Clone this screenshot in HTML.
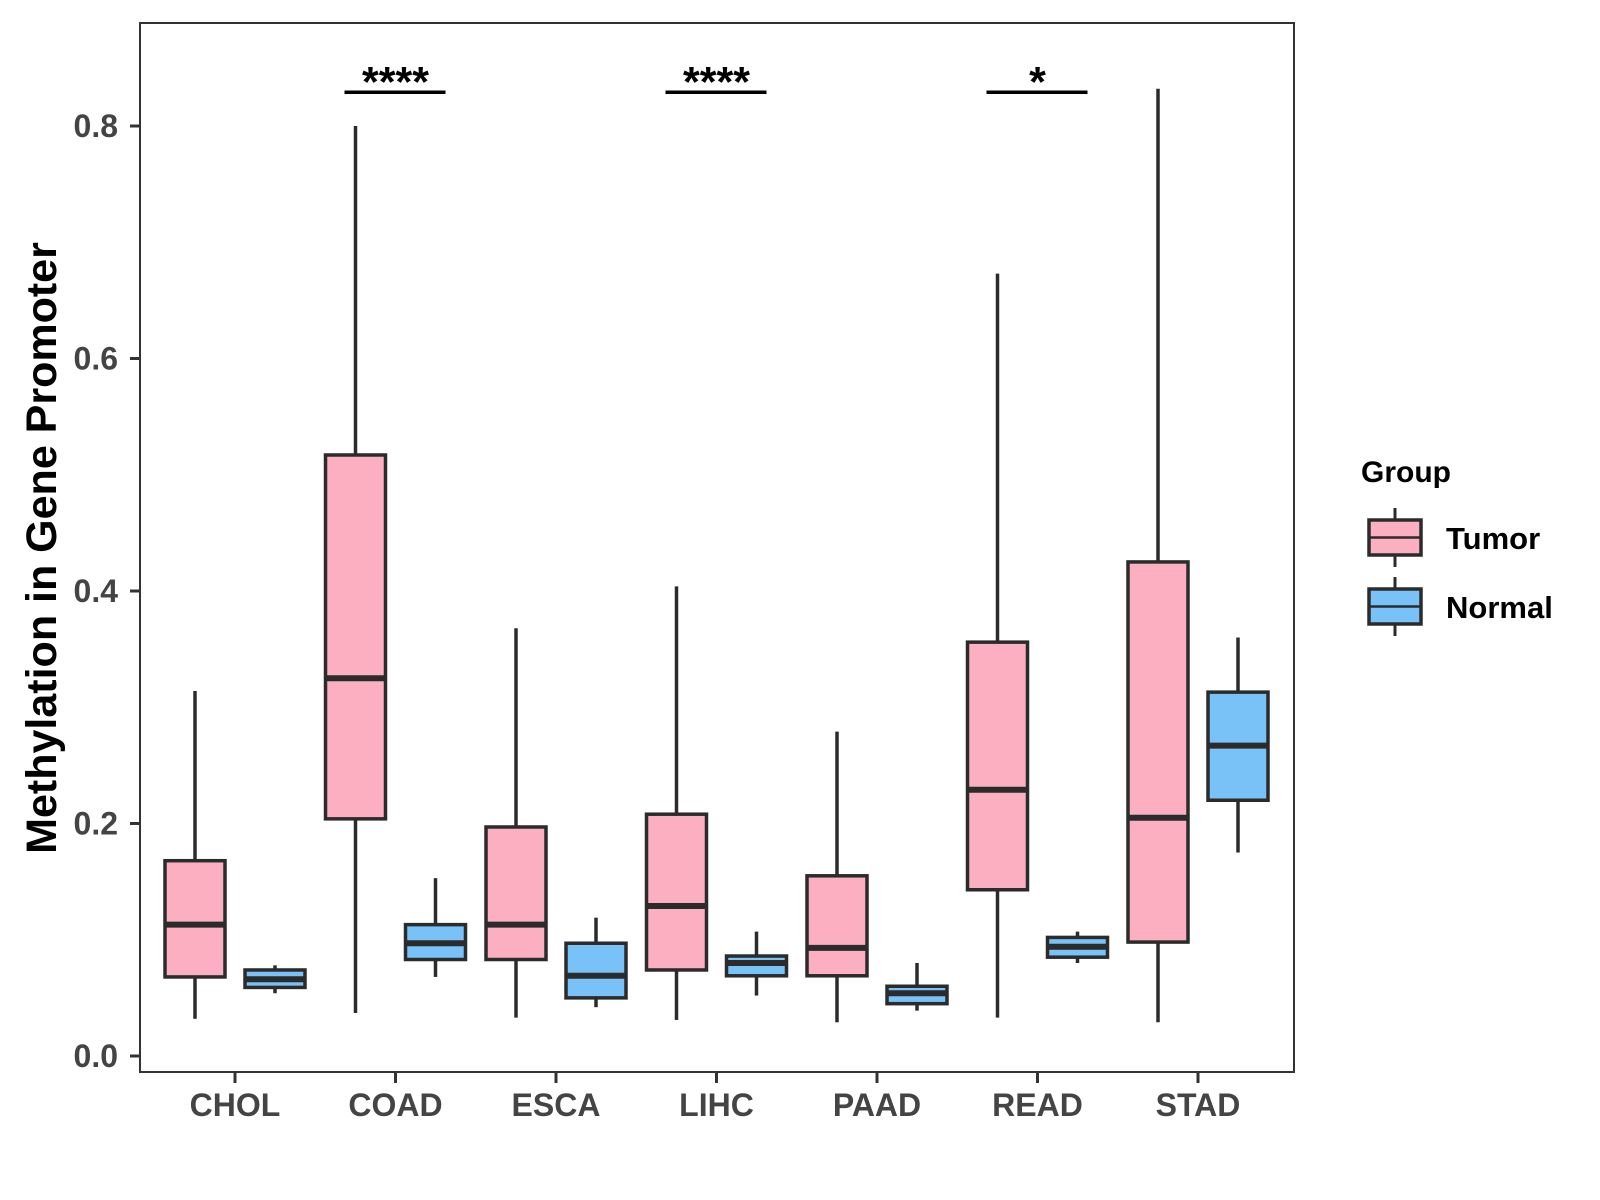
<!DOCTYPE html>
<html><head><meta charset="utf-8"><style>
html,body{margin:0;padding:0;background:#fff;}
svg{display:block;font-family:"Liberation Sans",Arial,sans-serif;}
</style></head><body>
<svg id="chart" width="1600" height="1200" viewBox="0 0 1600 1200">
<g id="plot"></g>
</svg>
<script>
const categories = ["CHOL","COAD","ESCA","LIHC","PAAD","READ","STAD"];
const tumorLow  = [0.032,0.037,0.033,0.031,0.029,0.033,0.029];
const tumorQ1   = [0.068,0.204,0.083,0.074,0.069,0.143,0.098];
const tumorMed  = [0.113,0.325,0.113,0.129,0.093,0.229,0.205];
const tumorQ3   = [0.168,0.517,0.197,0.208,0.155,0.356,0.425];
const tumorHigh = [0.314,0.800,0.368,0.404,0.279,0.673,0.832];
const normalLow  = [0.054,0.068,0.042,0.052,0.039,0.080,0.175];
const normalQ1   = [0.059,0.083,0.050,0.069,0.045,0.085,0.220];
const normalMed  = [0.066,0.097,0.069,0.080,0.054,0.094,0.267];
const normalQ3   = [0.074,0.113,0.097,0.086,0.060,0.102,0.313];
const normalHigh = [0.078,0.153,0.119,0.107,0.080,0.107,0.360];
const yTicks = [0.0,0.2,0.4,0.6,0.8];
const yTickLabels = ["0.0","0.2","0.4","0.6","0.8"];
const sigCats = ["COAD","LIHC","READ"];
const sigLabels = ["****","****","*"];
const sigLevel = 0.829;

const NS="http://www.w3.org/2000/svg";
const g=document.getElementById('plot');
const L=140,T=23,R=1294,B=1072;
function y(v){return 1056 - v*1162.5;}
function x(i){return 235 + i*160.5;}
function el(tag,attrs,parent){const e=document.createElementNS(NS,tag);for(const k in attrs)e.setAttribute(k,attrs[k]);(parent||g).appendChild(e);return e;}

const panel=el('rect',{x:L,y:T,width:R-L,height:B-T,fill:'none',stroke:'#333',"stroke-width":2});



yTicks.forEach((v,i)=>{
  const t=el('line',{x1:L-10,x2:L,y1:y(v),y2:y(v),stroke:'#333',"stroke-width":3});
  
  
  const tx=el('text',{x:L-22,y:y(v)+11,"text-anchor":"end","font-size":32,"font-weight":"bold",fill:'#444'});
  tx.textContent=yTickLabels[i];
  
  
});
categories.forEach((c,i)=>{
  const t=el('line',{x1:x(i),x2:x(i),y1:B,y2:B+11,stroke:'#333',"stroke-width":3});
  
  
  const tx=el('text',{x:x(i),y:1116,"text-anchor":"middle","font-size":32,"font-weight":"bold",fill:'#444'});
  tx.textContent=c;
  
  
});

function box(cx,lo,q1,md,q3,hi,fill,name){
  const bg=el('g',{});
  
  
  el('line',{x1:cx,x2:cx,y1:y(hi),y2:y(q3),stroke:'#2b2b2b',"stroke-width":3.5},bg);
  el('line',{x1:cx,x2:cx,y1:y(q1),y2:y(lo),stroke:'#2b2b2b',"stroke-width":3.5},bg);
  el('rect',{x:cx-30,y:y(q3),width:60,height:y(q1)-y(q3),fill:fill,stroke:'#2b2b2b',"stroke-width":3.5},bg);
  el('line',{x1:cx-30,x2:cx+30,y1:y(md),y2:y(md),stroke:'#2b2b2b',"stroke-width":6},bg);
}
categories.forEach((c,i)=>{
  box(x(i)-40,tumorLow[i],tumorQ1[i],tumorMed[i],tumorQ3[i],tumorHigh[i],'#fbafc1','tumor-box-'+c.toLowerCase());
  box(x(i)+40,normalLow[i],normalQ1[i],normalMed[i],normalQ3[i],normalHigh[i],'#79c2f7','normal-box-'+c.toLowerCase());
});

sigCats.forEach((c,k)=>{
  const i=categories.indexOf(c);
  const ln=el('line',{x1:x(i)-51,x2:x(i)+50,y1:y(sigLevel),y2:y(sigLevel),stroke:'#000',"stroke-width":3.5});
  
  
  const tx=el('text',{x:x(i),y:y(sigLevel)+4,"text-anchor":"middle","font-size":43,"font-weight":"bold",fill:'#000'});
  tx.textContent=sigLabels[k];
  
  
});

const yt=el('text',{x:0,y:0,transform:'translate(56,548) rotate(-90)',"text-anchor":"middle","font-size":43,"font-weight":"bold",fill:'#000'});
yt.textContent='Methylation in Gene Promoter';



const lg=el('g',{});


const lt=el('text',{x:1361,y:482,"font-size":30,"font-weight":"bold",fill:'#000'},lg);
lt.textContent='Group';


[['Tumor','#fbafc1',520],['Normal','#79c2f7',589]].forEach(([lab,fill,top])=>{
  const e=el('g',{},lg);
  
  
  const cx=1395;
  el('line',{x1:cx,x2:cx,y1:top-12,y2:top+47,stroke:'#2b2b2b',"stroke-width":3},e);
  el('rect',{x:1369,y:top,width:52,height:35,fill:fill,stroke:'#2b2b2b',"stroke-width":3.5},e);
  el('line',{x1:1369,x2:1421,y1:top+17.5,y2:top+17.5,stroke:'#2b2b2b',"stroke-width":2.5},e);
  const t=el('text',{x:1446,y:top+29,"font-size":31,"font-weight":"bold",fill:'#000'},e);
  t.textContent=lab;
});
</script>
</body></html>
